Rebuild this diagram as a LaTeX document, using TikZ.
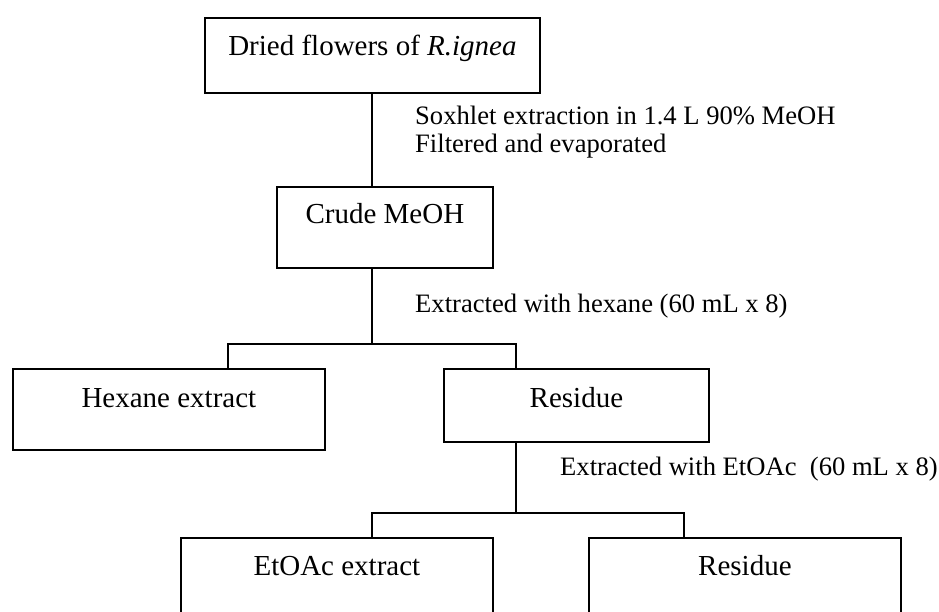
\documentclass[tikz,border=0pt]{standalone}
\usepackage{fontspec}
\setmainfont{Liberation Serif}
\newcommand\boxfnt{\fontsize{29}{34}\selectfont}
\newcommand\notefnt{\fontsize{26.6}{28}\selectfont}
\tikzset{
  stagebox/.style={draw, line width=1.8pt, inner xsep=0pt, inner ysep=0pt, anchor=north west, font=\boxfnt},
  note/.style={anchor=base west, inner sep=0pt, font=\notefnt},
  conn/.style={line width=1.8pt}
}
\begin{document}
\begin{tikzpicture}[x=1pt,y=1pt]
\useasboundingbox (0,0) rectangle (939,-612);
\clip (0,0) rectangle (939,-612);
\node[stagebox, minimum width=335pt, text height=38pt, text depth=37pt] (b1) at (204,-17) {Dried flowers of \textit{R.ignea}};
\node[stagebox, minimum width=216pt, text height=37pt, text depth=44pt] (b2) at (276,-186) {Crude MeOH};
\node[stagebox, minimum width=312pt, text height=39pt, text depth=42pt] (b3) at (12,-368) {Hexane extract};
\node[stagebox, minimum width=265pt, text height=39pt, text depth=34pt] (b4) at (443,-368) {Residue};
\node[stagebox, minimum width=312pt, text height=38pt, text depth=90pt] (b5) at (180,-537) {EtOAc extract};
\node[stagebox, minimum width=312pt, text height=38pt, text depth=90pt] (b6) at (588,-537) {Residue};

\node[note] (n1) at (415,-125) {Soxhlet extraction in 1.4 L 90\% MeOH};
\node[note] (n2) at (415,-153) {Filtered and evaporated};
\node[note] (n3) at (415,-312) {Extracted with hexane (60 mL x 8)};
\node[note] (n4) at (560,-475) {Extracted with EtOAc\ \ (60 mL x 8)};

\coordinate (t1) at (372,-100);
\coordinate (h1) at (372,-344);
\coordinate (h1l) at (228,-344);
\coordinate (h1r) at (516,-344);
\coordinate (h2) at (516,-513);
\coordinate (h2l) at (372,-513);
\coordinate (h2r) at (684,-513);

\draw[conn] (b1.south -| t1) -- (b2.north -| t1);
\draw[conn] (b2.south -| h1) -- (h1);
\draw[conn] (b3.north -| h1l) |- (h1r) -- (b4.north -| h1r);
\draw[conn] (b4.south -| h2) -- (h2);
\draw[conn] (b5.north -| h2l) |- (h2r) -- (b6.north -| h2r);
\end{tikzpicture}
\end{document}
